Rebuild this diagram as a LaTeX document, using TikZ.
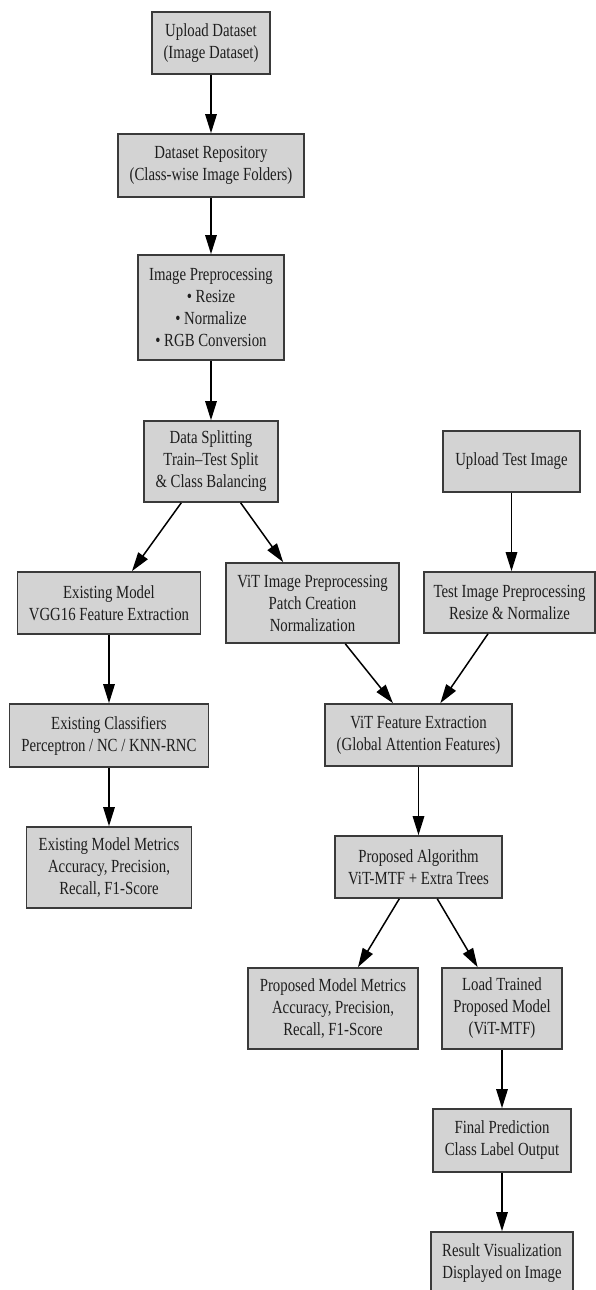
\documentclass[tikz,border=0pt]{standalone}
\usepackage{fontspec}
\setmainfont{Liberation Serif}[FakeStretch=0.8]
\usetikzlibrary{arrows.meta}
\definecolor{boxfill}{HTML}{D3D3D3}
\definecolor{boxline}{HTML}{3A3A3A}
\definecolor{txt}{HTML}{1E1E1E}
\begin{document}
\begin{tikzpicture}[x=1pt,y=-1pt,
  box/.style={draw=boxline, line width=1.7pt, fill=boxfill, inner sep=0pt,
    align=center, text=txt, font=\fontsize{18.5}{22}\selectfont},
  arr/.style={line width=1.5pt, draw=black, -{Triangle[length=19pt,width=11.5pt]}}]
\useasboundingbox (0,0) rectangle (595,1290);
\fill[white] (0,0) rectangle (595,1290);
% main column
\node[box, minimum width=118pt, minimum height=62pt] (upl) at (211,43) {Upload Dataset\\(Image Dataset)};
\node[box, minimum width=186pt, minimum height=63pt] (repo) at (211,165.5) {Dataset Repository\\(Class-wise Image Folders)};
\node[box, minimum width=146pt, minimum height=105pt] (prep) at (211,307.5) {Image Preprocessing\\• Resize\\• Normalize\\• RGB Conversion};
\node[box, minimum width=134pt, minimum height=81pt] (split) at (211,461.5) {Data Splitting\\Train–Test Split\\\& Class Balancing};
% test image
\node[box, minimum width=137pt, minimum height=61pt] (upt) at (511.5,461.5) {Upload Test Image};
\node[box, minimum width=171pt, minimum height=61pt] (tprep) at (509.5,602.5) {Test Image Preprocessing\\Resize \& Normalize};
% left column
\node[box, minimum width=183pt, minimum height=62pt] (exm) at (109,603) {Existing Model\\VGG16 Feature Extraction};
\node[box, minimum width=199pt, minimum height=63pt] (excl) at (109,735.5) {Existing Classifiers\\Perceptron / NC / KNN-RNC};
\node[box, minimum width=165pt, minimum height=81pt] (exmet) at (109,867.5) {Existing Model Metrics\\Accuracy, Precision,\\Recall, F1-Score};
% ViT column
\node[box, minimum width=173pt, minimum height=80pt] (vprep) at (312.5,603) {ViT Image Preprocessing\\Patch Creation\\Normalization};
\node[box, minimum width=187pt, minimum height=62pt] (vfeat) at (418.5,735) {ViT Feature Extraction\\(Global Attention Features)};
\node[box, minimum width=167pt, minimum height=62pt] (palg) at (418.5,867) {Proposed Algorithm\\ViT-MTF + Extra Trees};
\node[box, minimum width=170pt, minimum height=81pt] (pmet) at (333,1008.5) {Proposed Model Metrics\\Accuracy, Precision,\\Recall, F1-Score};
\node[box, minimum width=120pt, minimum height=81pt] (load) at (502,1008.5) {Load Trained\\Proposed Model\\(ViT-MTF)};
\node[box, minimum width=138pt, minimum height=63pt] (final) at (502,1140.5) {Final Prediction\\Class Label Output};
\node[box, minimum width=142pt, minimum height=62pt] (res) at (502,1263) {Result Visualization\\Displayed on Image};
% connectors
\draw[arr] (upl) -- (repo);
\draw[arr] (repo) -- (prep);
\draw[arr] (prep) -- (split);
\draw[arr] (split) -- (exm);
\draw[arr] (split) -- (vprep);
\draw[arr] (upt.south) -- (upt.south |- tprep.north);
\draw[arr] (exm) -- (excl);
\draw[arr] (excl) -- (exmet);
\draw[arr] (vprep) -- (vfeat);
\draw[arr] (tprep) -- (vfeat);
\draw[arr] (vfeat) -- (palg);
\draw[arr] (palg) -- (pmet);
\draw[arr] (palg) -- (load);
\draw[arr] (load) -- (final);
\draw[arr] (final) -- (res);
\end{tikzpicture}
\end{document}
